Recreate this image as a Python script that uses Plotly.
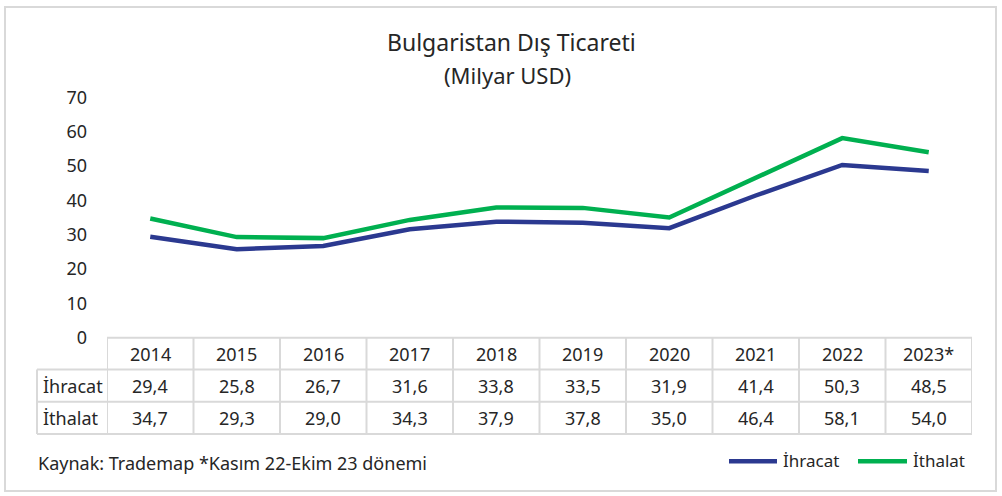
import plotly.graph_objects as go

years = ["2014", "2015", "2016", "2017", "2018", "2019", "2020", "2021", "2022", "2023*"]
ihracat = [29.4, 25.8, 26.7, 31.6, 33.8, 33.5, 31.9, 41.4, 50.3, 48.5]
ithalat = [34.7, 29.3, 29.0, 34.3, 37.9, 37.8, 35.0, 46.4, 58.1, 54.0]
series_names = ["İhracat", "İthalat"]
y_ticks = [0, 10, 20, 30, 40, 50, 60, 70]

W, H = 1002, 496          # reference geometry
FIG_H = 516               # rendered height
FONT = "Noto Sans"
TXT = "#262626"
GRID = "#D9D9D9"
BLUE = "#2B3990"
GREEN = "#00B050"
colors = [BLUE, GREEN]

x0_px, x1_px = 107, 972
ytop_px, ybot_px = 95, 337.5
xd = [x0_px / W, x1_px / W]
yd = [(H - ybot_px) / H, (H - ytop_px) / H]

def py(p):
    return (H - p) / H

idx = list(range(len(years)))
fig = go.Figure()
for name, vals, col in zip(series_names, [ihracat, ithalat], colors):
    fig.add_trace(go.Scatter(x=idx, y=vals, mode="lines", name=name,
                             line=dict(color=col, width=4.5), showlegend=False))

shapes = []
annotations = []
shapes.append(dict(type="rect", xref="paper", yref="paper", x0=5 / W, x1=996 / W,
                   y0=py(492), y1=py(4), line=dict(color=GRID, width=2)))

rows_y = [337.5, 369.5, 402, 434.5]
left_px = 37
shapes.append(dict(type="line", xref="paper", yref="paper", x0=x0_px / W, x1=x1_px / W,
                   y0=py(rows_y[0]), y1=py(rows_y[0]), line=dict(color=GRID, width=2)))
for k in (1, 2, 3):
    shapes.append(dict(type="line", xref="paper", yref="paper", x0=left_px / W, x1=x1_px / W,
                       y0=py(rows_y[k]), y1=py(rows_y[k]), line=dict(color=GRID, width=2)))
shapes.append(dict(type="line", xref="paper", yref="paper", x0=left_px / W, x1=left_px / W,
                   y0=py(rows_y[1]), y1=py(rows_y[3]), line=dict(color=GRID, width=2)))
for i in range(len(years) + 1):
    shapes.append(dict(type="line", xref="x", yref="paper", x0=i - 0.5, x1=i - 0.5,
                       y0=py(rows_y[0]), y1=py(rows_y[3]), line=dict(color=GRID, width=2)))

cell_font = dict(family=FONT, size=18, color=TXT)
def fmt(v):
    return f"{v:.1f}".replace(".", ",")
def cell(x, y, text, xref="x", xanchor="center", font=cell_font):
    annotations.append(dict(x=x, y=y, xref=xref, yref="paper", text=text, showarrow=False,
                            xanchor=xanchor, yanchor="middle", font=font))
def mid(k):
    return py((rows_y[k] + rows_y[k + 1]) / 2)
for i, yr in enumerate(years):
    cell(i, mid(0), yr)
    cell(i, mid(1), fmt(ihracat[i]))
    cell(i, mid(2), fmt(ithalat[i]))
for k, nm in enumerate(series_names):
    cell((left_px + 4) / W, mid(k + 1), nm, xref="paper", xanchor="left")

cell(512 / W, py(39), "Bulgaristan Dış Ticareti", xref="paper",
     font=dict(family=FONT, size=23, color=TXT))
cell(508 / W, py(73), "(Milyar USD)", xref="paper", font=dict(family=FONT, size=22, color=TXT))
cell(36 / W, py(464), "Kaynak: Trademap *Kasım 22-Ekim 23 dönemi", xref="paper",
     xanchor="left", font=dict(family=FONT, size=18, color=TXT))

# legend drawn manually (line sample + label)
leg_x = [(729, 777, 781), (858, 907, 911)]
for (lx0, lx1, tx), nm, col in zip(leg_x, series_names, colors):
    shapes.append(dict(type="line", xref="paper", yref="paper", x0=lx0 / W, x1=lx1 / W,
                       y0=py(462), y1=py(462), line=dict(color=col, width=4.5)))
    cell(tx / W, py(461), nm, xref="paper", xanchor="left",
         font=dict(family=FONT, size=17, color=TXT))

fig.update_layout(
    width=W, height=FIG_H,
    margin=dict(l=0, r=0, t=0, b=0),
    paper_bgcolor="white", plot_bgcolor="white",
    font=dict(family=FONT, size=18, color=TXT),
    shapes=shapes, annotations=annotations,
    showlegend=False,
    xaxis=dict(domain=xd, range=[-0.5, len(years) - 0.5], showticklabels=False,
               showgrid=False, zeroline=False, showline=False, fixedrange=True),
    yaxis=dict(domain=yd, range=[0, 70], tickvals=y_ticks, showgrid=False, zeroline=False,
               showline=False, ticks="", ticklabelstandoff=19,
               tickfont=dict(family=FONT, size=18, color=TXT), fixedrange=True),
)

post = (
    "document.documentElement.style.margin='0';"
    "document.body.style.margin='0';"
    "var d=document.getElementById('{plot_id}');"
    "d.style.position='absolute';d.style.top='-10px';d.style.left='0px';"
)
fig.write_html("out.html", config={"displayModeBar": False}, post_script=post)
